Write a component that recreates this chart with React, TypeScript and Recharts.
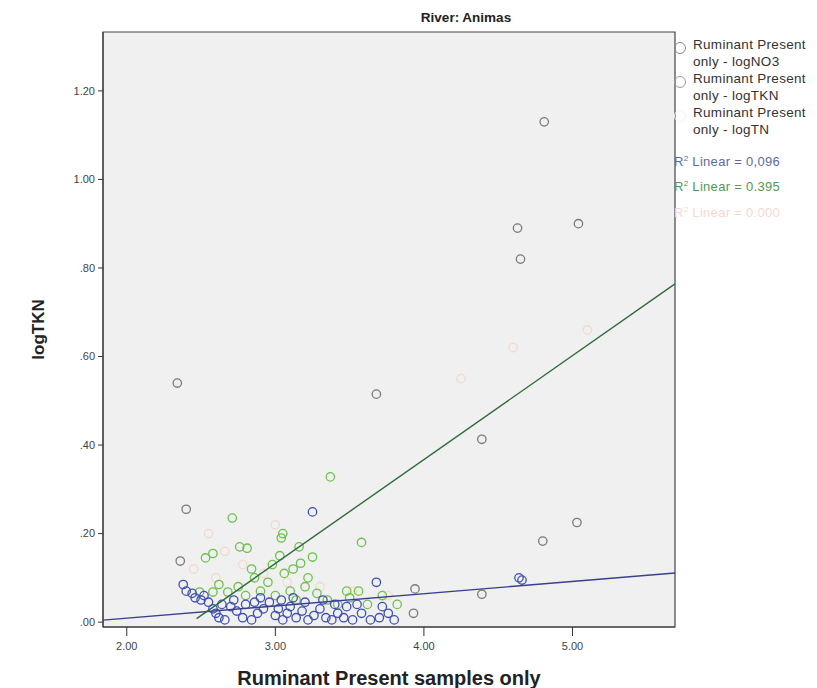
import {
  ComposedChart,
  ReferenceArea,
  Scatter,
  XAxis,
  YAxis,
} from "recharts";

// River: Animas — three log series against Ruminant Present samples, with
// linear fit lines for logNO3 and logTKN.

const X_TICKS = [2, 3, 4, 5];
const Y_TICKS = [0, 0.2, 0.4, 0.6, 0.8, 1.0, 1.2];

const logNO3: [number, number][] = [
  [2.38, 0.085], [2.4, 0.07], [2.44, 0.065], [2.5, 0.05], [2.55, 0.045],
  [2.58, 0.03], [2.6, 0.02], [2.62, 0.01], [2.66, 0.005], [2.7, 0.035],
  [2.74, 0.025], [2.78, 0.01], [2.8, 0.04], [2.84, 0.005], [2.88, 0.02],
  [2.92, 0.03], [2.96, 0.045], [3.0, 0.015], [3.02, 0.03], [3.05, 0.005],
  [3.08, 0.02], [3.1, 0.035], [3.14, 0.01], [3.18, 0.025], [3.22, 0.005],
  [3.26, 0.015], [3.3, 0.03], [3.34, 0.01], [3.38, 0.005], [3.42, 0.02],
  [3.46, 0.01], [3.52, 0.005], [3.58, 0.02], [3.64, 0.005], [3.7, 0.01],
  [3.76, 0.02], [3.8, 0.005], [3.25, 0.249], [3.68, 0.09], [4.64, 0.1],
  [4.66, 0.095], [2.46, 0.055], [2.52, 0.06], [2.64, 0.04], [2.72, 0.05],
  [2.86, 0.045], [2.9, 0.055], [3.04, 0.05], [3.12, 0.055], [3.2, 0.045],
  [3.32, 0.05], [3.4, 0.04], [3.48, 0.035], [3.55, 0.04], [3.72, 0.035],
];

const logTKN: [number, number][] = [
  [2.53, 0.145], [2.58, 0.155], [2.81, 0.167], [3.03, 0.15], [3.04, 0.19],
  [3.05, 0.2], [3.16, 0.17], [3.17, 0.133], [3.25, 0.147], [3.37, 0.328],
  [3.58, 0.18], [2.49, 0.068], [2.58, 0.068], [2.68, 0.068], [2.75, 0.08],
  [2.8, 0.06], [2.86, 0.1], [2.9, 0.07], [2.95, 0.09], [3.0, 0.06],
  [3.06, 0.11], [3.1, 0.07], [3.14, 0.05], [3.2, 0.08], [3.28, 0.065],
  [3.35, 0.05], [3.42, 0.04], [3.5, 0.055], [3.56, 0.07], [3.62, 0.04],
  [3.72, 0.06], [3.82, 0.04], [2.71, 0.235], [2.76, 0.17], [3.48, 0.07],
  [2.62, 0.085], [2.84, 0.12], [2.98, 0.13], [3.12, 0.12], [3.22, 0.1],
];

const logTN: [number, number][] = [
  [4.81, 1.13], [4.63, 0.89], [4.65, 0.82], [5.04, 0.9], [3.68, 0.515],
  [2.34, 0.54], [4.39, 0.413], [2.4, 0.255], [2.36, 0.138], [5.03, 0.225],
  [4.8, 0.183], [4.39, 0.063], [3.93, 0.02], [3.94, 0.075],
];

// pale logTN marks that barely show against the background
const logTNpale: [number, number][] = [
  [2.45, 0.12], [2.6, 0.1], [2.66, 0.16], [2.78, 0.13], [2.92, 0.11],
  [3.08, 0.09], [3.3, 0.08], [3.52, 0.07], [3.76, 0.06], [2.55, 0.2],
  [3.0, 0.22], [4.25, 0.55], [4.6, 0.62], [5.1, 0.66],
];

// fit line end points
const fitNO3: [number, number][] = [[1.84, 0.0045], [5.69, 0.111]];
const fitTKN: [number, number][] = [[2.47, 0.008], [5.69, 0.764]];

const toRows = (pts: [number, number][]) => pts.map(([x, y]) => ({ x, y }));

const ring = (color: string) => (props: any) => (
  <circle cx={props.cx} cy={props.cy} r={4.2} fill="none" stroke={color} strokeWidth={1.3} />
);
const noDot = () => <g />;

const legendText = { fontSize: 13.5, color: "#333", lineHeight: "17px", letterSpacing: 0.3 };

export default function App() {
  return (
    <div
      style={{
        position: "absolute",
        left: 0,
        top: 0,
        width: 817,
        height: 688,
        background: "#fff",
        fontFamily: "'Liberation Sans', Arial, sans-serif",
      }}
    >
      <div
        style={{
          position: "absolute",
          left: 0,
          width: 932,
          top: 10,
          textAlign: "center",
          fontWeight: 700,
          fontSize: 13.5,
          color: "#222",
        }}
      >
        River: Animas
      </div>

      <ComposedChart
        width={817}
        height={688}
        margin={{ top: 32, right: 142, bottom: 0, left: 0 }}
        style={{ fontFamily: "'Liberation Sans', Arial, sans-serif" }}
      >
        <XAxis
          type="number"
          dataKey="x"
          domain={[1.84, 5.69]}
          ticks={X_TICKS}
          allowDataOverflow
          tickFormatter={(v: number) => v.toFixed(2)}
          height={61}
          tickSize={9}
          tickMargin={6}
          axisLine={{ stroke: "#333" }}
          tickLine={{ stroke: "#333" }}
          tick={{ fill: "#444", fontSize: 11 }}
          label={{
            value: "Ruminant Present samples only",
            position: "insideBottom",
            offset: 3,
            style: { fontWeight: 700, fontSize: 20, fill: "#222" },
          }}
        />
        <YAxis
          type="number"
          dataKey="y"
          domain={[-0.011, 1.333]}
          ticks={Y_TICKS}
          allowDataOverflow
          tickFormatter={(v: number) => {
            const s = v.toFixed(2);
            return s.startsWith("0") ? s.slice(1) : s;
          }}
          width={103}
          tickSize={5}
          tickMargin={3}
          axisLine={{ stroke: "#333" }}
          tickLine={{ stroke: "#333" }}
          tick={{ fill: "#444", fontSize: 11 }}
          label={({ viewBox }: any) => (
            <text
              x={38}
              y={viewBox.y + viewBox.height / 2}
              transform={`rotate(-90 38 ${viewBox.y + viewBox.height / 2})`}
              textAnchor="middle"
              dominantBaseline="central"
              fontWeight={700}
              fontSize={17}
              fill="#222"
            >
              logTKN
            </text>
          )}
        />
        <ReferenceArea
          x1={1.84}
          x2={5.69}
          y1={-0.011}
          y2={1.333}
          fill="#f0f0f0"
          fillOpacity={1}
          stroke="#444"
          strokeWidth={1.2}
        />
        <Scatter data={toRows(logTNpale)} shape={ring("#f1d9cf")} isAnimationActive={false} />
        <Scatter data={toRows(logTN)} shape={ring("#7a7a7a")} isAnimationActive={false} />
        <Scatter data={toRows(logTKN)} shape={ring("#6cc24a")} isAnimationActive={false} />
        <Scatter data={toRows(logNO3)} shape={ring("#3f51b5")} isAnimationActive={false} />
        <Scatter
          data={toRows(fitNO3)}
          shape={noDot}
          line={{ stroke: "#3a3f8a", strokeWidth: 1.4 }}
          lineType="joint"
          isAnimationActive={false}
        />
        <Scatter
          data={toRows(fitTKN)}
          shape={noDot}
          line={{ stroke: "#2e6b3a", strokeWidth: 1.4 }}
          lineType="joint"
          isAnimationActive={false}
        />
      </ComposedChart>

      <div style={{ position: "absolute", left: 674, top: 36, width: 143 }}>
        {[
          { name: "logNO3", ring: "#8a8a8a" },
          { name: "logTKN", ring: "#9a9a9a" },
          { name: "logTN", ring: "#f3f3f3" },
        ].map((s) => (
          <div key={s.name} style={{ display: "flex", alignItems: "flex-start" }}>
            <svg width={19} height={34} style={{ flex: "none" }}>
              <circle cx={6} cy={12} r={5.5} fill="none" stroke={s.ring} strokeWidth={1} />
            </svg>
            <div style={legendText}>
              Ruminant Present
              <br />
              only - {s.name}
            </div>
          </div>
        ))}
        <div style={{ marginTop: 10 }}>
          {[
            { text: "0,096", color: "#5d6a9e" },
            { text: "0.395", color: "#4f9a55" },
            { text: "0.000", color: "#f6d8cf" },
          ].map((r) => (
            <div
              key={r.color}
              style={{ fontSize: 13, color: r.color, lineHeight: "22px", letterSpacing: 0.3 }}
            >
              R<sup style={{ fontSize: 8 }}>2</sup> Linear = {r.text}
            </div>
          ))}
        </div>
      </div>
    </div>
  );
}
